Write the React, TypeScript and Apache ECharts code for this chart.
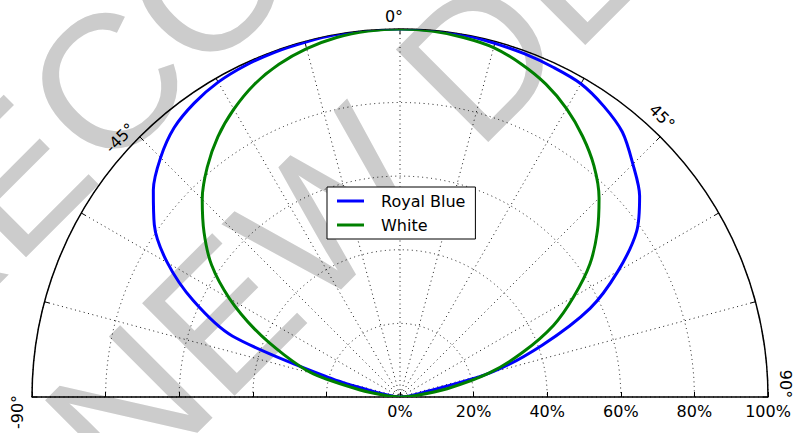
import React, { useEffect, useRef } from 'react';
import * as echarts from 'echarts';

// ---- data ----
const ANGLES = [-90, -85, -80, -75, -70, -65, -60, -55, -50, -45, -40, -35, -30, -25, -20, -15, -10, -5, 0,
  5, 10, 15, 20, 25, 30, 35, 40, 45, 50, 55, 60, 65, 70, 75, 80, 85, 90];
const ROYAL_BLUE = [0, 1.5, 5, 19, 48.5, 62, 73, 81.5, 87.5, 92, 95.5, 97.5, 98.8, 99.4, 99.7, 99.8, 100, 100, 100,
  100, 99.9, 99.5, 99.2, 98.8, 98.3, 96.5, 94, 89.5, 85, 78.5, 68.4, 57, 41, 25.5, 5.5, 2, 0];
const WHITE = [0, 3, 11, 24.5, 33.5, 43.5, 53.5, 62.5, 69.5, 76, 81.5, 86.3, 90.3, 93.7, 96.2, 98, 99.2, 99.8, 100,
  99.8, 99.2, 98.3, 96.3, 93.8, 90.5, 86.5, 82, 76.5, 70, 63, 54.5, 46, 35.5, 25, 13, 4, 0];
const SERIES_NAMES = ['Royal Blue', 'White'];
const ANGLE_TICK_LABELS = ['-90°', '-45°', '0°', '45°', '90°'];
const WATERMARK_LINES = ['NOT RECOMMENDED', 'FOR NEW DESIGNS'];

// ---- layout ----
const CX = 400;
const CY = 397;
const R = 368;
const ANGLE_LABEL_LAYOUT = [
  { x: 17, y: 412, rot: 90 },
  { x: 120, y: 138, rot: 45 },
  { x: 394, y: 16, rot: 0 },
  { x: 662, y: 117, rot: -45 },
  { x: 785, y: 384, rot: -90 },
];
const WATERMARK_ROT = 45;
const WATERMARK_LAYOUT = [
  { x: -447, y: 637 },
  { x: -241, y: 778 },
];

export default function App() {
  const ref = useRef<HTMLDivElement>(null);
  useEffect(() => {
    const chart = echarts.init(ref.current!, null, { renderer: 'svg' });
    const dotted = { color: '#000', width: 0.9, type: [1, 3.5] as number[] };
    const font = 'DejaVu Sans';
    const rad = (d: number) => (d * Math.PI) / 180;

    const graphicEls: any[] = [];
    WATERMARK_LINES.forEach((t, i) => {
      graphicEls.push({
        type: 'text',
        x: WATERMARK_LAYOUT[i].x,
        y: WATERMARK_LAYOUT[i].y,
        rotation: rad(WATERMARK_ROT),
        z: -100,
        silent: true,
        style: {
          text: t,
          x: 0,
          y: 0,
          align: 'left',
          verticalAlign: 'middle',
          fill: '#cccccc',
          font: '190px "Liberation Sans", Arial, sans-serif',
        },
      });
    });
    ANGLE_TICK_LABELS.forEach((t, i) => {
      const l = ANGLE_LABEL_LAYOUT[i];
      graphicEls.push({
        type: 'text',
        x: l.x,
        y: l.y,
        rotation: rad(l.rot),
        z: 10,
        style: {
          text: t,
          x: 0,
          y: 0,
          align: 'center',
          verticalAlign: 'middle',
          fill: '#000',
          font: `16px "${font}"`,
        },
      });
    });

    const option: any = {
      animation: false,
      textStyle: { fontFamily: font },
      polar: [
        { center: [CX, CY], radius: R },
        { center: [CX, CY], radius: R },
      ],
      angleAxis: [
        {
          polarIndex: 0,
          type: 'value',
          min: -90,
          max: 90,
          interval: 15,
          startAngle: 180,
          endAngle: 0,
          clockwise: true,
          axisLine: { show: true, lineStyle: { color: '#000', width: 1.5 } },
          axisTick: { show: true, inside: true, length: 5, lineStyle: { color: '#000', width: 1 } },
          axisLabel: { show: false },
          splitLine: { show: true, lineStyle: dotted },
          z: 1,
        },
        {
          polarIndex: 1,
          type: 'value',
          min: 0,
          max: 180,
          startAngle: 0,
          endAngle: 180,
          clockwise: false,
          show: false,
        },
      ],
      radiusAxis: [
        {
          polarIndex: 0,
          type: 'value',
          min: 0,
          max: 100,
          interval: 20,
          axisLine: { show: true, lineStyle: { color: '#000', width: 1.5 } },
          axisTick: { show: true, length: -5, lineStyle: { color: '#000', width: 1 } },
          axisLabel: { show: false },
          splitLine: { show: true, lineStyle: dotted },
          z: 1,
        },
        {
          polarIndex: 1,
          type: 'value',
          min: 0,
          max: 100,
          interval: 20,
          axisLine: { show: true, lineStyle: { color: '#000', width: 1.5 } },
          axisTick: { show: true, length: 5, lineStyle: { color: '#000', width: 1 } },
          axisLabel: {
            show: true,
            formatter: '{value}%',
            color: '#000',
            fontSize: 16,
            fontFamily: font,
            margin: -6,
            verticalAlign: 'top',
            align: 'center',
          },
          splitLine: { show: false },
          z: 1,
        },
      ],
      legend: {
        orient: 'vertical',
        left: 327,
        top: 187,
        backgroundColor: '#fff',
        borderColor: '#000',
        borderWidth: 1,
        borderRadius: 0,
        padding: [6, 10, 6, 10],
        itemWidth: 27,
        itemHeight: 3,
        itemGap: 8,
        icon: 'rect',
        selectedMode: false,
        textStyle: { fontFamily: font, fontSize: 16, color: '#000', padding: [0, 0, 0, 12] },
        data: SERIES_NAMES,
        z: 20,
      },
      graphic: { elements: graphicEls },
      series: [
        {
          name: SERIES_NAMES[0],
          type: 'line',
          coordinateSystem: 'polar',
          polarIndex: 0,
          showSymbol: false,
          symbol: 'none',
          smooth: 0.3,
          color: '#0000ff',
          lineStyle: { color: '#0000ff', width: 3 },
          data: ANGLES.map((a, i) => [ROYAL_BLUE[i], a]),
          z: 5,
        },
        {
          name: SERIES_NAMES[1],
          type: 'line',
          coordinateSystem: 'polar',
          polarIndex: 0,
          showSymbol: false,
          symbol: 'none',
          smooth: 0.3,
          color: '#008000',
          lineStyle: { color: '#008000', width: 3 },
          data: ANGLES.map((a, i) => [WHITE[i], a]),
          z: 5,
        },
      ],
    };
    chart.setOption(option);
    return () => chart.dispose();
  }, []);
  return <div ref={ref} style={{ position: 'absolute', left: 0, top: 0, width: 798, height: 433 }} />;
}
